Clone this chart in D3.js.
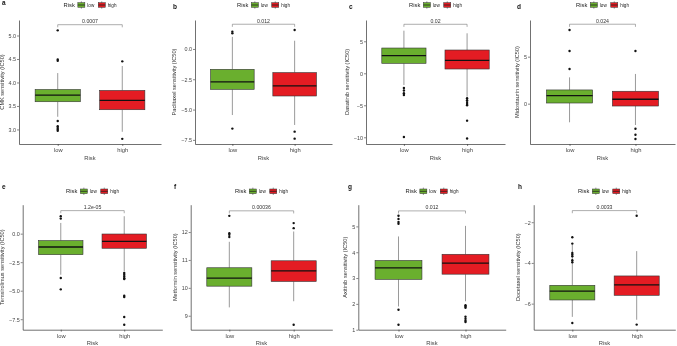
<!DOCTYPE html>
<html>
<head>
<meta charset="utf-8">
<script src="https://cdn.jsdelivr.net/npm/d3@7"></script>
<style>
  body { margin: 0; background: #fff; }
  svg { display: block; font-family: "Liberation Sans", Arial, sans-serif; will-change: transform; opacity: 0.999; }
</style>
</head>
<body>
<svg id="chart" width="677" height="346"></svg>
<script>
const groups = ["low", "high"];
const letters = ["a", "b", "c", "d", "e", "f", "g", "h"];
const drugs = ["CMK", "Paclitaxel", "Dasatinib", "Midostaurin", "Temsirolimus", "Metformin", "Axitinib", "Docetaxel"];
const pValues = ["0.0007", "0.012", "0.02", "0.024", "1.2e-05", "0.00036", "0.012", "0.0033"];

// [whisker low, q1, median, q3, whisker high]
const lowStats = [
  [3.27, 3.59, 3.73, 3.85, 4.2],
  [-5.45, -3.33, -2.72, -1.68, 1.0],
  [-1.83, 1.56, 2.75, 3.95, 6.66],
  [-1.98, 0.07, 0.85, 1.46, 2.8],
  [-3.6, -1.84, -1.17, -0.61, 0.94],
  [9.3, 10.06, 10.35, 10.72, 11.65],
  [1.9, 2.95, 3.39, 3.68, 4.61],
  [-6.65, -5.82, -5.39, -5.1, -3.1]
];
const highStats = [
  [2.95, 3.42, 3.62, 3.83, 4.35],
  [-6.27, -3.88, -3.05, -1.95, 0.68],
  [-3.65, 0.67, 2.03, 3.64, 6.25],
  [-2.27, -0.25, 0.47, 1.32, 3.16],
  [-3.3, -1.28, -0.67, -0.03, 1.53],
  [9.52, 10.23, 10.61, 10.97, 12.02],
  [2.1, 3.15, 3.58, 3.92, 5.02],
  [-6.79, -5.59, -5.08, -4.64, -3.42]
];
const lowOutliers = [
  [5.11, 4.49, 4.46, 3.18, 3.07, 3.03, 3.0, 2.97],
  [1.43, 1.29, -6.57],
  [-2.3, -2.7, -3.1, -3.4, -9.95],
  [7.84, 5.6, 3.69],
  [1.53, 1.32, -3.89, -4.88],
  [12.58, 11.96, 11.9, 11.82],
  [5.41, 5.29, 5.17, 5.1, 1.77, 1.19],
  [-2.74, -3.05, -3.51, -3.59, -3.67, -3.87, -3.97, -6.95]
];
const highOutliers = [
  [4.45, 2.8],
  [1.57, -6.82, -7.4],
  [-3.9, -4.2, -4.5, -4.8, -5.0, -7.4, -10.2],
  [5.6, -2.66, -3.3, -3.76],
  [-3.45, -3.6, -3.75, -3.9, -3.97, -5.44, -5.55, -7.3, -7.98],
  [12.32, 12.14, 8.68],
  [1.95, 1.9, 1.85, 1.5, 1.42, 1.35, 1.3],
  [-1.68, -7.03]
];
const bracketValues = [5.23, 2.04, 7.66, 8.45, 2.02, 12.76, 5.6, -1.43];
const yDomains = [
  [2.69, 5.33], [-7.84, 2.39], [-11.05, 8.33], [-4.29, 8.9],
  [-8.42, 2.54], [8.5, 12.98], [1.0, 5.84], [-7.28, -1.14]
];
const yTicks = [
  [3.0, 3.5, 4.0, 4.5, 5.0], [-7.5, -5.0, -2.5, 0.0], [-10, -5, 0, 5], [0, 5],
  [-7.5, -5.0, -2.5, 0.0], [9, 10, 11, 12], [1, 2, 3, 4, 5], [-6, -4, -2]
];
const yTickFormats = [".1f", ".1f", "d", "d", ".1f", "d", "d", "d"];

const colors = { low: "#6aaf2e", high: "#e41c23" };

// panel placement (plot area edges + panel letter)
const rows = [
  { top: 20, bottom: 144, legendY: 5 },
  { top: 204.7, bottom: 329.7, legendY: 191.3 }
];
const cols = [
  { x0: 19, x1: 161, lx: 2, ly: 5 },
  { x0: 195, x1: 332, lx: 173, ly: 8.5 },
  { x0: 366, x1: 505, lx: 349, ly: 8.5 },
  { x0: 530, x1: 675, lx: 517, ly: 8.5 },
  { x0: 22.7, x1: 162.3, lx: 2, ly: 188.5 },
  { x0: 190.7, x1: 332.3, lx: 174, ly: 188.5 },
  { x0: 358.3, x1: 505.7, lx: 348, ly: 189 },
  { x0: 533.7, x1: 675.3, lx: 518, ly: 188.5 }
];

const svg = d3.select("#chart");

function drawKey(g, x, cy, fill) {
  const w = 7, h = 4.6;
  g.append("line")
    .attr("x1", x + w / 2).attr("x2", x + w / 2)
    .attr("y1", cy - h / 2 - 1.4).attr("y2", cy + h / 2 + 1.4)
    .attr("stroke", "#333").attr("stroke-width", 0.5);
  g.append("rect")
    .attr("x", x).attr("y", cy - h / 2)
    .attr("width", w).attr("height", h)
    .attr("fill", fill).attr("stroke", "#333").attr("stroke-width", 0.5);
  g.append("line")
    .attr("x1", x).attr("x2", x + w)
    .attr("y1", cy).attr("y2", cy)
    .attr("stroke", "#222").attr("stroke-width", 0.8);
  return w;
}

letters.forEach((letter, i) => {
  const row = rows[Math.floor(i / 4)];
  const col = cols[i];
  const g = svg.append("g").classed("panel", true);

  const x = d3.scalePoint().domain(groups).range([col.x0, col.x1]).padding(0.6);
  const y = d3.scaleLinear().domain(yDomains[i]).range([row.bottom, row.top]);
  const boxW = x.step() * 0.7;

  // axes
  const yAxis = g.append("g")
    .attr("transform", `translate(${col.x0},0)`)
    .call(d3.axisLeft(y).tickValues(yTicks[i]).tickFormat(d3.format(yTickFormats[i])).tickSize(2).tickSizeOuter(0));
  const xAxis = g.append("g")
    .attr("transform", `translate(0,${row.bottom})`)
    .call(d3.axisBottom(x).tickSize(2).tickSizeOuter(0));
  [yAxis, xAxis].forEach(a => {
    a.select(".domain").attr("stroke", "#333").attr("stroke-width", 0.7);
    a.selectAll(".tick line").attr("stroke", "#333").attr("stroke-width", 0.6);
    a.selectAll(".tick text").attr("fill", "#444").attr("font-size", 5.4).attr("font-family", null);
  });
  yAxis.selectAll(".tick text").attr("x", -3).attr("dy", "0.34em");
  xAxis.selectAll(".tick text").attr("y", 4).attr("font-size", 5.8);

  let tickW = 0;
  yAxis.selectAll(".tick text").each(function () { tickW = Math.max(tickW, this.getComputedTextLength()); });

  // y title
  g.append("text")
    .attr("transform", `translate(${col.x0 - tickW - 8},${(row.top + row.bottom) / 2}) rotate(-90)`)
    .attr("text-anchor", "middle")
    .attr("font-size", 5.6).attr("fill", "#333")
    .text(`${drugs[i]} sensitivity (IC50)`);

  // x title
  g.append("text")
    .attr("x", (col.x0 + col.x1) / 2).attr("y", row.bottom + 15.5)
    .attr("text-anchor", "middle")
    .attr("font-size", 5.8).attr("fill", "#444")
    .text("Risk");

  // panel letter
  g.append("text")
    .attr("x", col.lx).attr("y", col.ly)
    .attr("font-size", 6.5).attr("font-weight", "bold").attr("fill", "#111")
    .text(letter);

  // boxes
  const stats = { low: lowStats[i], high: highStats[i] };
  const outliers = { low: lowOutliers[i], high: highOutliers[i] };
  groups.forEach(grp => {
    const [wLo, q1, med, q3, wHi] = stats[grp];
    const cx = x(grp);
    g.append("line")
      .attr("x1", cx).attr("x2", cx).attr("y1", y(wHi)).attr("y2", y(q3))
      .attr("stroke", "#555").attr("stroke-width", 0.6);
    g.append("line")
      .attr("x1", cx).attr("x2", cx).attr("y1", y(q1)).attr("y2", y(wLo))
      .attr("stroke", "#555").attr("stroke-width", 0.6);
    g.append("rect")
      .attr("x", cx - boxW / 2).attr("y", y(q3))
      .attr("width", boxW).attr("height", y(q1) - y(q3))
      .attr("fill", colors[grp]).attr("stroke", "#333").attr("stroke-width", 0.6);
    g.append("line")
      .attr("x1", cx - boxW / 2).attr("x2", cx + boxW / 2)
      .attr("y1", y(med)).attr("y2", y(med))
      .attr("stroke", "#111").attr("stroke-width", 1.3);
    g.selectAll(null)
      .data(outliers[grp])
      .join("circle")
      .attr("cx", cx).attr("cy", d => y(d))
      .attr("r", 1.2).attr("fill", "#111");
  });

  // significance bracket
  const by = y(bracketValues[i]);
  g.append("path")
    .attr("d", `M${x("low")},${by + 2.6}V${by}H${x("high")}V${by + 2.6}`)
    .attr("fill", "none").attr("stroke", "#777").attr("stroke-width", 0.6);
  g.append("text")
    .attr("x", (x("low") + x("high")) / 2).attr("y", by - 1.4)
    .attr("text-anchor", "middle")
    .attr("font-size", 5.2).attr("fill", "#333")
    .text(pValues[i]);

  // legend centred over plot
  const leg = g.append("g");
  const ly = row.legendY;
  let cursor = 0;
  const title = leg.append("text").attr("x", cursor).attr("y", ly).attr("dy", "0.35em")
    .attr("font-size", 5.8).attr("fill", "#222").text("Risk");
  cursor += title.node().getComputedTextLength() + 3;
  groups.forEach((grp, k) => {
    cursor += drawKey(leg, cursor, ly, colors[grp]) + 2.5;
    const t = leg.append("text").attr("x", cursor).attr("y", ly).attr("dy", "0.35em")
      .attr("font-size", 4.6).attr("fill", "#222").text(grp);
    cursor += t.node().getComputedTextLength() + (k === 0 ? 4 : 0);
  });
  leg.attr("transform", `translate(${(col.x0 + col.x1) / 2 - cursor / 2},0)`);
});
</script>
</body>
</html>
